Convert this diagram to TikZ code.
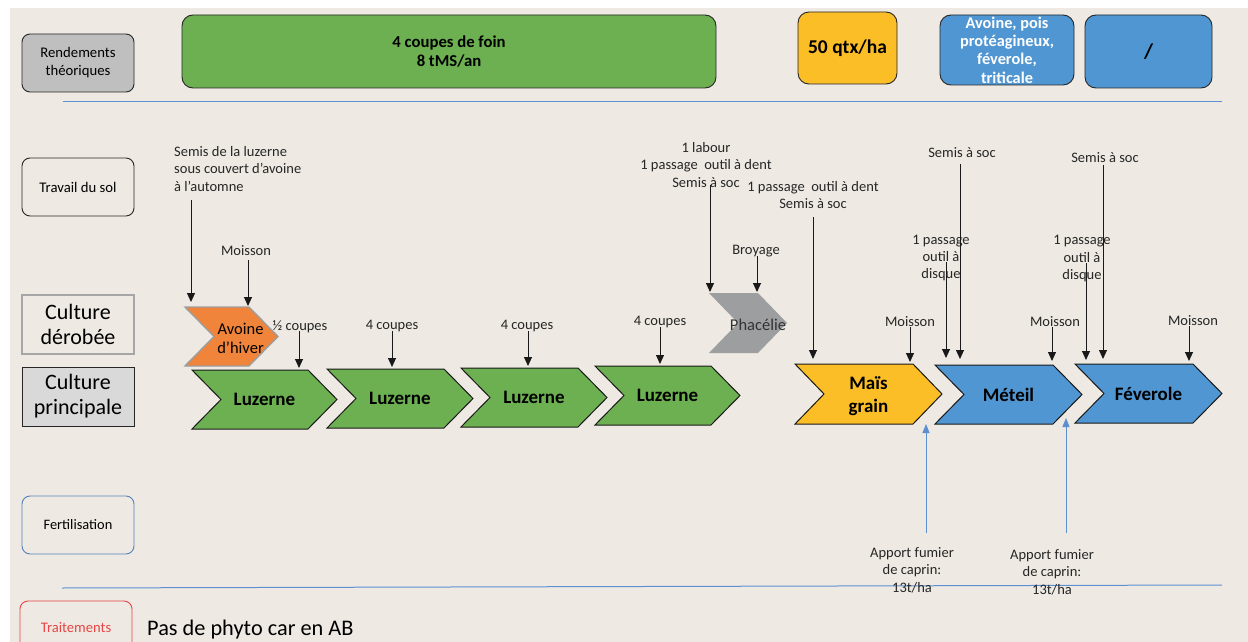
\documentclass[tikz,border=0pt]{standalone}
\usepackage{fontspec}
\setmainfont{Carlito}
\usetikzlibrary{arrows.meta}
\definecolor{bg}{HTML}{EEEAE3}
\definecolor{cgreen}{HTML}{6CB052}
\definecolor{corange}{HTML}{F0843A}
\definecolor{cyellow}{HTML}{FBBE26}
\definecolor{cblue}{HTML}{5096D2}
\definecolor{cgray}{HTML}{9C9E9F}
\definecolor{lineblue}{HTML}{5F8FD3}
\definecolor{arrblue}{HTML}{5B8FD0}
\definecolor{cred}{HTML}{E84545}
% name, x1, x2, ytop, ybot, path style, node style, text
\newcommand{\chevr}[8]{%
  \path[#6] (#2,#4) -- (#3-29,#4) -- (#3,{(#4+#5)/2}) -- (#3-29,#5) -- (#2,#5) -- (#2+29,{(#4+#5)/2}) -- cycle;
  \node[inner sep=0, align=center, #7] (#1) at ({(#2+#3)/2},{(#4+#5)/2}) {#8};}
\tikzset{
  ann/.style={font=\fontsize{14.5}{17.5}\selectfont, align=center, inner sep=0, text=black!85},
  arr/.style={-{Triangle[length=9pt,width=8pt]}, line width=1pt, black!90},
  barr/.style={-{Triangle[length=9pt,width=7pt]}, line width=1pt, arrblue},
  leftbox/.style={minimum width=112, minimum height=58, inner sep=0, align=center, line width=0.9pt},
  topbox/.style={draw=black!85, line width=0.9pt, rounded corners=11, inner sep=0, align=center},
  mainchev/.style={fill=#1, draw=black!90, line width=1pt},
  chevtext/.style={font=\bfseries\fontsize{19}{23}\selectfont},
}
\begin{document}
\begin{tikzpicture}[x=1pt,y=-1pt]
\useasboundingbox (0,0) rectangle (1248,642);
\fill[white] (0,0) rectangle (1248,642);
\fill[bg] (10,8) rectangle (1248,642);

% separators
\draw[lineblue, line width=1pt] (63,101) -- (1222,101);
\draw[lineblue, line width=1pt] (62,588) -- (1222,585);

% left labels
\node[leftbox, draw=black!85, fill=black!25, rounded corners=8, font=\fontsize{14.7}{18}\selectfont] (rend) at (78,63) {Rendements\\théoriques};
\node[leftbox, draw=black!85, rounded corners=8, font=\fontsize{14.7}{18}\selectfont] (trav) at (78,187) {Travail du sol};
\node[leftbox, draw=black!35, line width=1.3pt, font=\fontsize{22}{25}\selectfont, minimum height=59] (der) at (78,324.5) {Culture\\dérobée};
\node[leftbox, draw=black!85, fill=black!15, font=\fontsize{22}{25}\selectfont, minimum height=59] (princ) at (78,396.5) {Culture\\principale};
\node[leftbox, draw=arrblue!90!black, rounded corners=8, font=\fontsize{14.4}{17}\selectfont] (fert) at (78,525) {Fertilisation};
\node[leftbox, draw=cred, rounded corners=8, text=cred, minimum height=54, font=\fontsize{14.6}{17}\selectfont] (trait) at (76,628) {Traitements};
\node[anchor=west, inner sep=0, font=\fontsize{22.3}{26}\selectfont] (phyto) at (147,630) {Pas de phyto car en AB};

% top row
\node[topbox, fill=cgreen, minimum width=534, minimum height=73, font=\bfseries\fontsize{16.7}{19}\selectfont] (ygreen) at (449,51.5) {4 coupes de foin\\8 tMS/an};
\node[topbox, fill=cyellow, minimum width=99, minimum height=72, font=\bfseries\fontsize{19.5}{22}\selectfont] (yyellow) at (847.5,48) {50 qtx/ha};
\node[topbox, fill=cblue, minimum width=134, minimum height=70] (yblue) at (1007,50) {};
\node[inner sep=0, align=center, text=white, font=\bfseries\fontsize{16.3}{18.3}\selectfont] (ybluet) at (1007,50) {Avoine, pois\\protéagineux,\\féverole,\\triticale};
\node[topbox, fill=cblue, minimum width=127, minimum height=73, font=\bfseries\fontsize{21}{24}\selectfont] (yblue2) at (1148.5,51.5) {/};

% catch crops
\chevr{avoine}{185}{278}{307}{366}{fill=corange, draw=black!38, line width=1.4pt}{xshift=9pt, yshift=-1.5pt, font=\fontsize{16.5}{19}\selectfont}{Avoine\\d’hiver}
\chevr{phacelie}{709}{787}{293}{353}{fill=cgray}{opacity=0}{}
\node[inner sep=0, font=\fontsize{16.5}{19}\selectfont, text=black!80] (phact) at (758,325) {Phacélie};

% main crops
\chevr{luz1}{192}{337}{370}{429}{mainchev=cgreen}{chevtext}{Luzerne}
\chevr{luz2}{327}{473}{369}{428}{mainchev=cgreen}{chevtext}{Luzerne}
\chevr{luz3}{461}{607}{368}{427}{mainchev=cgreen}{chevtext}{Luzerne}
\chevr{luz4}{595}{740}{366}{425}{mainchev=cgreen}{chevtext}{Luzerne}
\chevr{mais}{795}{942}{364}{424}{mainchev=cyellow}{chevtext, yshift=-2.5pt}{Maïs\\grain}
\chevr{meteil}{935}{1082}{365}{424}{mainchev=cblue}{chevtext}{Méteil}
\chevr{feve}{1075}{1222}{364}{423}{mainchev=cblue}{chevtext}{Féverole}

% annotations
\node[ann, align=left, anchor=west] (t1) at (174,169) {Semis de la luzerne\\sous couvert d’avoine\\à l’automne};
\node[ann] (t2) at (246,251) {Moisson};
\node[ann] (t3) at (300,327) {½ coupes};
\node[ann] (t4) at (392,326) {4 coupes};
\node[ann] (t5) at (527,326) {4 coupes};
\node[ann] (t6) at (660,322) {4 coupes};
\node[ann] (t7) at (706,165) {1 labour\\1 passage~ outil à dent\\Semis à soc};
\node[ann] (t8) at (756,251) {Broyage};
\node[ann] (t9) at (813,195) {1 passage~ outil à dent\\Semis à soc};
\node[ann] (t10) at (910,322) {Moisson};
\node[ann] (t11) at (962,153) {Semis à soc};
\node[ann] (t12) at (941,258) {1 passage\\outil à\\disque};
\node[ann] (t13) at (1055,322) {Moisson};
\node[ann] (t14) at (1105,158) {Semis à soc};
\node[ann] (t15) at (1082,259) {1 passage\\outil à\\disque};
\node[ann] (t16) at (1193,321) {Moisson};
\node[ann] (f1) at (912,570) {Apport fumier\\de caprin:\\13t/ha};
\node[ann] (f2) at (1052,572) {Apport fumier\\de caprin:\\13t/ha};

% arrow end points
\coordinate (a1s) at (191,200);  \coordinate (a1e) at (191,302);
\coordinate (a2s) at (248,260);  \coordinate (a2e) at (248,306);
\coordinate (a3s) at (299,331);  \coordinate (a3e) at (299,368);
\coordinate (a4s) at (392,331);  \coordinate (a4e) at (392,367);
\coordinate (a5s) at (528,331);  \coordinate (a5e) at (528,366);
\coordinate (a6s) at (660,327);  \coordinate (a6e) at (660,364);
\coordinate (a7s) at (710,185);  \coordinate (a7e) at (710,292);
\coordinate (a8s) at (757,256);  \coordinate (a8e) at (757,292);
\coordinate (a9s) at (813,217);  \coordinate (a9e) at (813,359);
\coordinate (a10s) at (910,327); \coordinate (a10e) at (910,362);
\coordinate (a11s) at (960,164); \coordinate (a11e) at (960,359);
\coordinate (a12s) at (946,262); \coordinate (a12e) at (946,358);
\coordinate (a13s) at (1052,327); \coordinate (a13e) at (1052,361);
\coordinate (a14s) at (1103,165); \coordinate (a14e) at (1103,359);
\coordinate (a15s) at (1086,263); \coordinate (a15e) at (1086,360);
\coordinate (a16s) at (1189,326); \coordinate (a16e) at (1189,361);
\coordinate (b1s) at (926,533); \coordinate (b1e) at (926,424);
\coordinate (b2s) at (1066,533); \coordinate (b2e) at (1066,418);

\foreach \i in {1,...,16} { \draw[arr] (a\i s) -- (a\i e); }
\draw[barr] (b1s) -- (b1e);
\draw[barr] (b2s) -- (b2e);
\end{tikzpicture}
\end{document}
